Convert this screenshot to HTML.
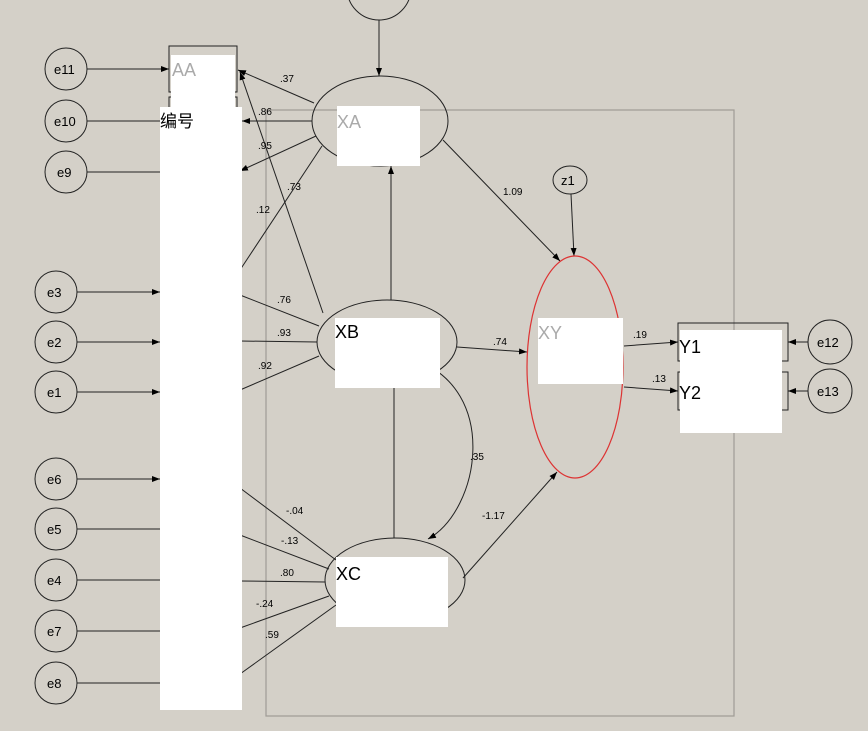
<!DOCTYPE html>
<html><head><meta charset="utf-8"><style>
html,body{margin:0;padding:0;background:#d4d0c8;}
svg{display:block;font-family:"Liberation Sans","Noto Sans CJK SC",sans-serif;}
</style></head><body>
<svg width="868" height="731" viewBox="0 0 868 731" xmlns="http://www.w3.org/2000/svg">
<defs><marker id="a" markerWidth="8" markerHeight="6" refX="8" refY="3" orient="auto" markerUnits="userSpaceOnUse"><path d="M0,0 L8,3 L0,6 z" fill="#000"/></marker></defs>
<rect width="868" height="731" fill="#d4d0c8"/>
<g stroke="#a09c96" fill="none" stroke-width="1.2">
<path d="M266,110 H734 V716 H266 Z"/>
</g>
<g stroke="#222" fill="none" stroke-width="1">
<circle cx="379" cy="-12" r="32"/>
<line x1="379" y1="20" x2="379" y2="76" marker-end="url(#a)"/>
<circle cx="66" cy="69" r="21"/><circle cx="66" cy="121" r="21"/><circle cx="66" cy="172" r="21"/>
<circle cx="56" cy="292" r="21"/><circle cx="56" cy="342" r="21"/><circle cx="56" cy="392" r="21"/>
<circle cx="56" cy="479" r="21"/><circle cx="56" cy="529" r="21"/><circle cx="56" cy="580" r="21"/>
<circle cx="56" cy="631" r="21"/><circle cx="56" cy="683" r="21"/>
<line x1="87" y1="69" x2="169" y2="69" marker-end="url(#a)"/>
<line x1="87" y1="121" x2="160" y2="121"/>
<line x1="87" y1="172" x2="160" y2="172"/>
<line x1="77" y1="292" x2="160" y2="292" marker-end="url(#a)"/>
<line x1="77" y1="342" x2="160" y2="342" marker-end="url(#a)"/>
<line x1="77" y1="392" x2="160" y2="392" marker-end="url(#a)"/>
<line x1="77" y1="479" x2="160" y2="479" marker-end="url(#a)"/>
<line x1="77" y1="529" x2="160" y2="529"/>
<line x1="77" y1="580" x2="160" y2="580"/>
<line x1="77" y1="631" x2="160" y2="631"/>
<line x1="77" y1="683" x2="160" y2="683"/>
<rect x="169" y="46" width="68" height="46"/>
<rect x="169" y="97" width="68" height="30"/>
<ellipse cx="380" cy="121" rx="68" ry="45"/>
<line x1="314" y1="103" x2="238" y2="70" marker-end="url(#a)"/>
<line x1="312" y1="121" x2="242" y2="121" marker-end="url(#a)"/>
<line x1="316" y1="136" x2="240" y2="171" marker-end="url(#a)"/>
<line x1="322" y1="146" x2="240" y2="270"/>
<line x1="443" y1="140" x2="560" y2="261" marker-end="url(#a)"/>
<ellipse cx="387" cy="342" rx="70" ry="42"/>
<line x1="323" y1="313" x2="240" y2="72" marker-end="url(#a)"/>
<line x1="319" y1="326" x2="240" y2="295"/>
<line x1="317" y1="342" x2="240" y2="341"/>
<line x1="319" y1="356" x2="240" y2="390"/>
<line x1="391" y1="300" x2="391" y2="166" marker-end="url(#a)"/>
<line x1="457" y1="347" x2="527" y2="352" marker-end="url(#a)"/>
<path d="M415,360 C500,390 480,510 428,539" marker-end="url(#a)"/>
<ellipse cx="395" cy="580" rx="70" ry="42"/>
<line x1="394" y1="538" x2="394" y2="384"/>
<line x1="336" y1="560" x2="240" y2="488"/>
<line x1="329" y1="569" x2="240" y2="535"/>
<line x1="325" y1="582" x2="240" y2="581"/>
<line x1="329" y1="596" x2="240" y2="628"/>
<line x1="336" y1="605" x2="240" y2="674"/>
<line x1="463" y1="578" x2="557" y2="472" marker-end="url(#a)"/>
<ellipse cx="570" cy="180" rx="17" ry="14"/>
<line x1="571" y1="194" x2="574" y2="256" marker-end="url(#a)"/>
<rect x="678" y="323" width="110" height="38"/>
<rect x="678" y="372" width="110" height="38"/>
<line x1="624" y1="346" x2="678" y2="342" marker-end="url(#a)"/>
<line x1="624" y1="387" x2="678" y2="391" marker-end="url(#a)"/>
<circle cx="830" cy="342" r="22"/><circle cx="830" cy="391" r="22"/>
<line x1="808" y1="342" x2="788" y2="342" marker-end="url(#a)"/>
<line x1="808" y1="391" x2="788" y2="391" marker-end="url(#a)"/>
</g>
<ellipse cx="575" cy="367" rx="48" ry="111" fill="none" stroke="#d33" stroke-width="1.2"/>
<g fill="#fff">
<rect x="171" y="55" width="64" height="52"/>
<rect x="160" y="107" width="82" height="603"/>
<rect x="337" y="106" width="83" height="60"/>
<rect x="335" y="318" width="105" height="70"/>
<rect x="336" y="557" width="112" height="70"/>
<rect x="538" y="318" width="85" height="66"/>
<rect x="680" y="330" width="102" height="103"/>
</g>
<g font-size="13" fill="#000">
<text x="54" y="74">e11</text><text x="54" y="126">e10</text><text x="57" y="177">e9</text>
<text x="47" y="297">e3</text><text x="47" y="347">e2</text><text x="47" y="397">e1</text>
<text x="47" y="484">e6</text><text x="47" y="534">e5</text><text x="47" y="585">e4</text>
<text x="47" y="636">e7</text><text x="47" y="688">e8</text>
<text x="817" y="347">e12</text><text x="817" y="396">e13</text>
<text x="561" y="185">z1</text>
</g>
<g font-size="10" fill="#000">
<text x="280" y="82">.37</text><text x="258" y="115">.86</text><text x="258" y="149">.95</text>
<text x="287" y="190">.73</text><text x="256" y="213">.12</text>
<text x="277" y="303">.76</text><text x="277" y="336">.93</text><text x="258" y="369">.92</text>
<text x="503" y="195">1.09</text><text x="493" y="345">.74</text><text x="470" y="460">.35</text>
<text x="482" y="519">-1.17</text><text x="633" y="338">.19</text><text x="652" y="382">.13</text>
<text x="286" y="514">-.04</text><text x="281" y="544">-.13</text><text x="280" y="576">.80</text>
<text x="256" y="607">-.24</text><text x="265" y="638">.59</text>
</g>
<g font-size="18">
<text x="172" y="76" fill="#aaa">AA</text>
<text x="160" y="127" fill="#000" font-size="17">编号</text>
<text x="337" y="128" fill="#aaa">XA</text>
<text x="335" y="338" fill="#000">XB</text>
<text x="336" y="580" fill="#000">XC</text>
<text x="538" y="339" fill="#aaa">XY</text>
<text x="679" y="353" fill="#000">Y1</text>
<text x="679" y="399" fill="#000">Y2</text>
</g>
</svg>
</body></html>
